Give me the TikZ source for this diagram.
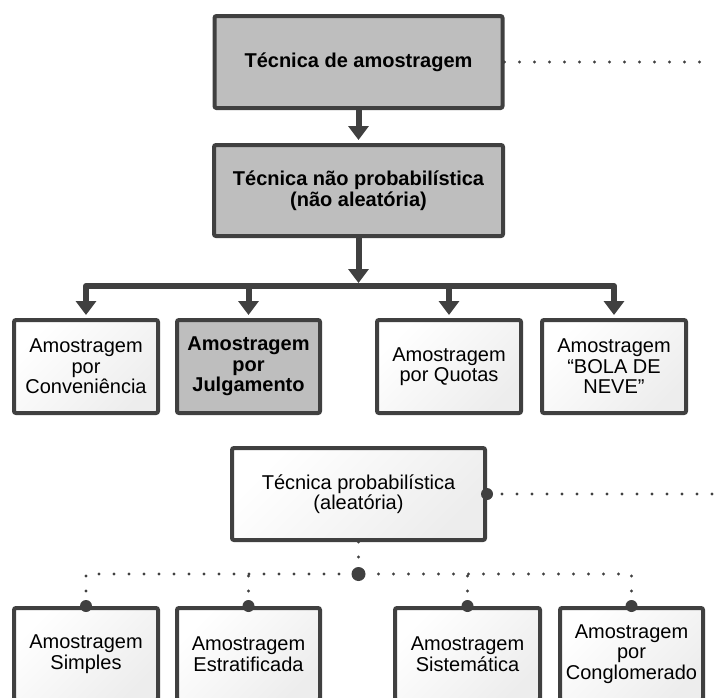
\documentclass[tikz,border=0pt]{standalone}
\usepackage{fontspec}
\setmainfont{Liberation Sans}
\usetikzlibrary{arrows.meta}
\pgfdeclarelayer{background}
\pgfsetlayers{background,main}

\definecolor{edge}{HTML}{404040}
\definecolor{boxgray}{HTML}{BEBEBE}

\begin{document}
\begin{tikzpicture}[x=1pt,y=-1pt,
  box/.style={draw=edge, line width=4pt, rounded corners=2pt, inner sep=4pt,
    align=center, text=black, anchor=center,
    font=\fontsize{20}{20.5}\selectfont},
  graybox/.style={box, fill=boxgray, font=\fontsize{20}{20.5}\selectfont\bfseries},
  whitebox/.style={box, top color=white, bottom color=black!7, shading angle=45},
  flow/.style={draw=edge, line width=6pt, line join=round},
  flowarrow/.style={flow, -{Triangle[length=14pt,width=20pt]}, shorten >=3pt},
  dotline/.style={draw=edge, line width=3.2pt, line cap=round,
    dash pattern=on 0pt off 15pt},
  joint/.style={circle, fill=edge, inner sep=0pt, minimum size=#1},
  joint/.default=12pt,
]
\useasboundingbox (0,0) rectangle (715,697);
\clip (0,0) rectangle (715,697);

% non-probabilistic branch
\node[graybox, minimum width=288pt, minimum height=92pt] (t) at (358.5,62)
  {Técnica de amostragem};
\node[graybox, minimum width=289pt, minimum height=91pt] (n) at (358.5,190.5)
  {Técnica não probabilística\\(não aleatória)};

\node[whitebox, minimum width=144pt, minimum height=93pt] (r1) at (86,366.5)
  {Amostragem\\por\\Conveniência};
\node[graybox, minimum width=143pt, minimum height=93pt] (r2) at (248.5,366.5)
  {Amostragem\\por\\Julgamento};
\node[whitebox, minimum width=144pt, minimum height=93pt] (r3) at (449,366.5)
  {Amostragem\\por Quotas};
\node[whitebox, minimum width=144pt, minimum height=93pt] (r4) at (614,366.5)
  {Amostragem\\“BOLA DE\\NEVE”};

% probabilistic branch
\node[whitebox, minimum width=253pt, minimum height=92pt] (p) at (358.5,494)
  {Técnica probabilística\\(aleatória)};

\node[whitebox, minimum width=144pt, minimum height=92pt] (s1) at (86,654)
  {Amostragem\\Simples};
\node[whitebox, minimum width=143pt, minimum height=92pt] (s2) at (248.5,654)
  {Amostragem\\Estratificada};
\node[whitebox, minimum width=145pt, minimum height=92pt] (s3) at (467.5,654)
  {Amostragem\\Sistemática};
\node[whitebox, minimum width=143pt, minimum height=92pt] (s4) at (631.5,654)
  {Amostragem\\por\\Conglomerado};

% connectors behind the boxes
\begin{pgfonlayer}{background}
  \coordinate (bar) at (358.5,286);
  \draw[flowarrow] (t.south) -- (n.north);
  \draw[flowarrow] (n.south) -- (bar);
  \foreach \b in {r1,r2,r3,r4}
    \draw[flowarrow] (bar) -| (\b.north);

  \coordinate (tend) at (706,62);
  \draw[dotline] (t.east) -- (tend);
  \coordinate (pend) at (714,494);
  \draw[dotline] (p.east) -- (pend);
  \coordinate (hub) at (358.5,574);
  \draw[dotline] (p.south) -- (hub);
  \draw[dotline] (s1.north) |- (hub);
  \draw[dotline] (s4.north) |- (hub);
  \draw[dotline] (s2.north) -- (s2.north |- hub);
  \draw[dotline] (s3.north) -- (s3.north |- hub);
\end{pgfonlayer}

% junction dots
\node[joint=14pt] (jh) at (hub) {};
\node[joint=12pt] (jp) at (p.east) {};
\foreach \b in {s1,s2,s3,s4}
  \node[joint] (j\b) at (\b.north) {};
\end{tikzpicture}
\end{document}
